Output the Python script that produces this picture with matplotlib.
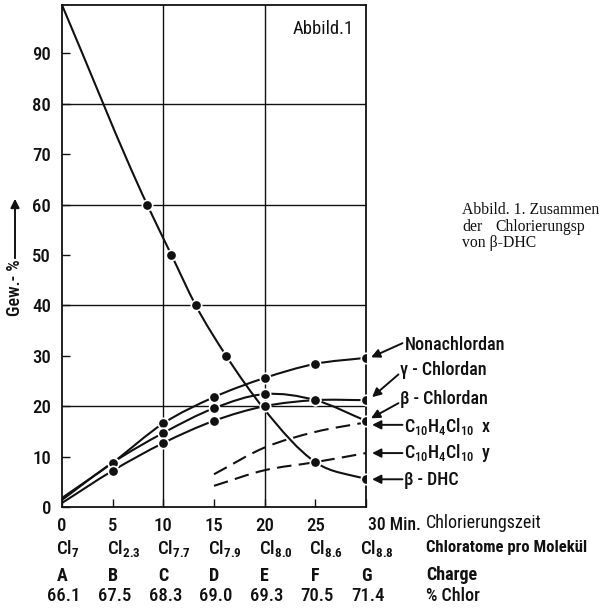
import matplotlib
matplotlib.use('Agg')
import matplotlib.pyplot as plt
from matplotlib import font_manager as fm
from matplotlib.path import Path
from matplotlib.patches import PathPatch, FancyArrowPatch
import numpy as np

# ---------------- data ----------------
time_min = [0, 5, 10, 15, 20, 25, 30]
time_labels = ['0', '5', '10', '15', '20', '25', '']
cl_atoms = ['7', '2.3', '7.7', '7.9', '8.0', '8.6', '8.8']
charges = ['A', 'B', 'C', 'D', 'E', 'F', 'G']
chlor_pct = ['66.1', '67.5', '68.3', '69.0', '69.3', '70.5', '71.4']

nonachlordan = [1.8, 8.8, 16.6, 21.8, 25.6, 28.4, 29.6]
beta_chlordan = [1.4, 8.8, 14.7, 19.6, 22.4, 21.2, 17.1]
gamma_chlordan = [0.8, 7.2, 12.7, 17.1, 20.0, 21.2, 21.2]

dhc_time = [0, 8.4, 10.8, 13.2, 16.2, 20, 25, 30]
beta_dhc = [99.6, 60, 50, 40, 30, 19.3, 8.9, 5.5]
dhc_marked = [False, True, True, True, True, False, True, True]

dash_time = [15, 20, 25, 30]
c10_x = [6.5, 11.8, 14.9, 16.8]
c10_y = [4.2, 7.3, 8.9, 10.7]

# ---------------- fonts ----------------
names = {f.name for f in fm.fontManager.ttflist}
SANS, FS = 'Roboto', 11.5
for cand in ['Liberation Sans Narrow', 'Roboto Condensed', 'Noto Sans Condensed',
             'Open Sans Condensed', 'DejaVu Sans Condensed', 'Arial Narrow']:
    if cand in names:
        SANS, FS = cand, 13
        break
if SANS not in names:
    SANS = 'DejaVu Sans'
    FS = 11
SERIF = 'Liberation Serif' if 'Liberation Serif' in names else 'DejaVu Serif'

plt.rcParams['font.family'] = [SANS, 'DejaVu Sans']
plt.rcParams['font.weight'] = 'medium'
plt.rcParams['mathtext.fontset'] = 'custom'
plt.rcParams['mathtext.rm'] = SANS + ':medium'
plt.rcParams['mathtext.bf'] = SANS + ':bold'
plt.rcParams['mathtext.it'] = SANS + ':italic'

INK = '#111111'


def smooth_path(xs, ys):
    xs = np.asarray(xs, float)
    ys = np.asarray(ys, float)
    n = len(xs)
    h = np.diff(xs)
    d = np.diff(ys) / h
    m = np.zeros(n)
    m[0] = d[0]
    m[-1] = d[-1]
    for i in range(1, n - 1):
        m[i] = (d[i - 1] * h[i] + d[i] * h[i - 1]) / (h[i - 1] + h[i])
    verts = [(xs[0], ys[0])]
    codes = [Path.MOVETO]
    for i in range(n - 1):
        verts += [(xs[i] + h[i] / 3, ys[i] + m[i] * h[i] / 3),
                  (xs[i + 1] - h[i] / 3, ys[i + 1] - m[i + 1] * h[i] / 3),
                  (xs[i + 1], ys[i + 1])]
        codes += [Path.CURVE4] * 3
    return Path(verts, codes)


fig = plt.figure(figsize=(6.02, 6.08), dpi=100)
ax = fig.add_axes([62 / 602, 101 / 608, 304 / 602, 502 / 608])
ax.set_xlim(0, 30)
ax.set_ylim(0, 99.6)

for s in ax.spines.values():
    s.set_linewidth(1.3)
    s.set_color(INK)

for yv in [20, 40, 60, 80]:
    ax.axhline(yv, color=INK, lw=1.0, zorder=1)
for xv in [10, 20]:
    ax.axvline(xv, color=INK, lw=1.0, zorder=1)

ax.set_xticks(time_min)
ax.set_xticklabels(time_labels, fontsize=FS + 0.5)
ax.set_yticks(range(0, 91, 10))
ax.set_yticklabels([str(v) for v in range(0, 91, 10)], fontsize=FS + 0.5)
ax.tick_params(direction='in', length=6, width=1.0, colors=INK, pad=7)
ax.tick_params(axis='y', pad=8)

# solid curves
for ys in [nonachlordan, beta_chlordan, gamma_chlordan]:
    ax.add_patch(PathPatch(smooth_path(time_min, ys), fill=False, lw=1.5,
                           edgecolor=INK, zorder=3, capstyle='round'))
    ax.plot(time_min[1:], ys[1:], 'o', ms=7.5, mfc=INK, mec='white',
            mew=1.2, zorder=4)

ax.add_patch(PathPatch(smooth_path(dhc_time, beta_dhc), fill=False, lw=1.5,
                       edgecolor=INK, zorder=3))
mx = [t for t, k in zip(dhc_time, dhc_marked) if k]
my = [v for v, k in zip(beta_dhc, dhc_marked) if k]
ax.plot(mx, my, 'o', ms=7.5, mfc=INK, mec='white', mew=1.2, zorder=4)

for ys in [c10_x, c10_y]:
    ax.add_patch(PathPatch(smooth_path(dash_time, ys), fill=False, lw=1.5,
                           edgecolor=INK, zorder=3, linestyle=(0, (7, 3.5))))

# box caption
ax.text(22.8, 94.8, 'Abbild.1', fontsize=FS + 0.3, fontweight='normal',
        ha='left', va='center', color=INK)

# bottom rows
xt = ax.get_xaxis_transform()
ax.text(30.15, -0.0359, '30 Min.', transform=xt, ha='left', va='center',
        fontsize=FS - 0.3, color=INK, clip_on=False)
for t, c, ch, p in zip(time_min, cl_atoms, charges, chlor_pct):
    ax.text(t - 0.6, -0.0817, r'Cl$_{\mathbf{%s}}$' % c, transform=xt,
            ha='left', va='center', fontsize=FS + 0.5, color=INK, clip_on=False)
    ax.text(t, -0.137, ch, transform=xt, ha='center', va='center',
            fontsize=FS, fontweight='bold', color=INK, clip_on=False)
    ax.text(t + 0.2, -0.177, p, transform=xt, ha='center', va='center',
            fontsize=FS + 0.5, color=INK, clip_on=False)

RX = 35.9
ax.text(RX, -0.0319, 'Chlorierungszeit', transform=xt, ha='left', va='center',
        fontsize=FS, fontweight='normal', color=INK, clip_on=False)
ax.text(RX, -0.0797, 'Chloratome pro Molekül', transform=xt, ha='left',
        va='center', fontsize=FS - 1, fontweight='bold', color=INK, clip_on=False)
ax.text(RX, -0.1355, 'Charge', transform=xt, ha='left', va='center',
        fontsize=FS, fontweight='bold', color=INK, clip_on=False)
ax.text(RX, -0.177, '% Chlor', transform=xt, ha='left', va='center',
        fontsize=FS, color=INK, clip_on=False)

# curve labels with arrows
labels = [
    ('Nonachlordan', (33.85, 32.1), (33.6, 32.5), (30.5, 29.7)),
    ('γ - Chlordan', (33.35, 27.2), (33.2, 26.3), (30.6, 21.8)),
    ('β - Chlordan', (33.35, 21.4), (33.2, 20.6), (30.5, 17.6)),
    (r'C$_{10}$H$_4$Cl$_{10}$  x', (33.75, 15.9), (33.6, 16.3), (30.6, 16.3)),
    (r'C$_{10}$H$_4$Cl$_{10}$  y', (33.75, 10.7), (33.6, 10.7), (30.6, 10.7)),
    ('β - DHC', (33.75, 5.4), (33.6, 5.5), (30.6, 5.5)),
]
for txt, tpos, start, tip in labels:
    ax.text(tpos[0], tpos[1], txt, ha='left', va='center', fontsize=FS,
            color=INK, clip_on=False)
    ax.annotate('', xy=tip, xytext=start, annotation_clip=False,
                arrowprops=dict(arrowstyle='-|>', color=INK, lw=1.4,
                                mutation_scale=13, shrinkA=0, shrinkB=0))

# y-axis label with arrow
fig.text(15 / 602, 1 - 288 / 608, 'Gew.- %', rotation=90, ha='center',
         va='center', fontsize=FS, color=INK)
fig.add_artist(FancyArrowPatch((15 / 602, 1 - 261 / 608), (15 / 602, 1 - 196 / 608),
                               transform=fig.transFigure, arrowstyle='-|>',
                               mutation_scale=13, lw=1.4, color=INK))

# serif caption
CFS = 11.3
fig.text(462 / 602, 1 - 210 / 608, 'Abbild. 1. Zusammen', family=SERIF,
         fontsize=CFS, ha='left', va='center', color=INK)
fig.text(462 / 602, 1 - 227 / 608, 'der', family=SERIF,
         fontsize=CFS, ha='left', va='center', color=INK)
fig.text(495 / 602, 1 - 227 / 608, 'Chlorierungsp', family=SERIF,
         fontsize=CFS, ha='left', va='center', color=INK)
fig.text(462 / 602, 1 - 243 / 608, 'von β-DHC', family=SERIF,
         fontsize=CFS, ha='left', va='center', color=INK)

fig.savefig('out.png', dpi=100)
